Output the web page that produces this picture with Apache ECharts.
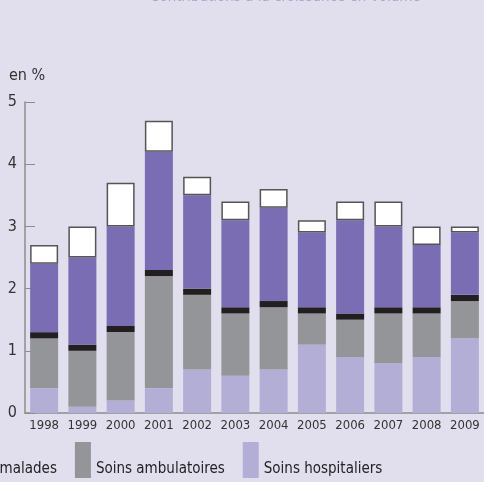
<!DOCTYPE html>
<html>
<head>
<meta charset="utf-8">
<script src="https://cdn.jsdelivr.net/npm/echarts@6/dist/echarts.min.js"></script>
<style>
  html, body { margin: 0; padding: 0; background: #e1dfee; }
  #chart { width: 484px; height: 482px; }
</style>
</head>
<body>
<div id="chart"></div>
<script>
const years = ['1998', '1999', '2000', '2001', '2002', '2003', '2004', '2005', '2006', '2007', '2008', '2009']
const soinsHospitaliers = [0.4, 0.1, 0.2, 0.4, 0.7, 0.6, 0.7, 1.1, 0.9, 0.8, 0.9, 1.2]
const soinsAmbulatoires = [0.8, 0.9, 1.1, 1.8, 1.2, 1.0, 1.0, 0.5, 0.6, 0.8, 0.7, 0.6]
const transports = [0.1, 0.1, 0.1, 0.1, 0.1, 0.1, 0.1, 0.1, 0.1, 0.1, 0.1, 0.1]
const medicaments = [1.1, 1.4, 1.6, 1.9, 1.5, 1.4, 1.5, 1.2, 1.5, 1.3, 1.0, 1.0]
const autres = [0.3, 0.5, 0.7, 0.5, 0.3, 0.3, 0.3, 0.2, 0.3, 0.4, 0.3, 0.1]
const yTicks = [0, 1, 2, 3, 4, 5]

const font = "'Liberation Sans Narrow', 'DejaVu Sans Condensed', sans-serif"

const chart = echarts.init(document.getElementById('chart'))

const bar = (name, data, color, extra) => ({
  name: name,
  type: 'bar',
  stack: 'total',
  data: data,
  barWidth: 28,
  itemStyle: Object.assign({ color: color }, extra || {})
})

const option = {
  backgroundColor: '#e1dfee',
  animation: false,
  graphic: [
    {
      type: 'text',
      left: 9,
      top: 68,
      style: { text: 'en %', fontSize: 16, fontFamily: font, fill: '#333' }
    },
    {
      type: 'text',
      x: 150,
      y: -10,
      style: { text: 'Contributions à la croissance en volume', fontSize: 15, fontFamily: font, fill: '#a9a3d3' }
    }
  ],
  legend: {
    data: ['Transports de malades', 'Soins ambulatoires', 'Soins hospitaliers'],
    left: -117,
    top: 442,
    padding: 0,
    itemWidth: 16,
    itemHeight: 36,
    itemGap: 18,
    icon: 'rect',
    formatter: name => '\n' + name,
    textStyle: { fontSize: 15, lineHeight: 18, fontFamily: font, color: '#222' }
  },
  grid: { left: 25, right: -2, top: 102, bottom: 69 },
  xAxis: {
    type: 'category',
    data: years,
    axisLine: { lineStyle: { color: '#8c8c8c', width: 1.5 } },
    axisTick: { inside: true, length: 6, lineStyle: { color: '#8c8c8c' } },
    axisLabel: { interval: 0, fontSize: 13, fontFamily: font, color: '#333', margin: 6 }
  },
  yAxis: {
    type: 'value',
    min: yTicks[0],
    max: yTicks[yTicks.length - 1],
    interval: 1,
    axisLine: { show: true, lineStyle: { color: '#8c8c8c', width: 1.5 } },
    axisTick: { show: true, inside: true, length: 10, lineStyle: { color: '#8c8c8c' } },
    splitLine: { show: false },
    axisLabel: { fontSize: 16, fontFamily: font, color: '#333', margin: 8 }
  },
  series: [
    bar('Soins hospitaliers', soinsHospitaliers, '#b3aed6'),
    bar('Soins ambulatoires', soinsAmbulatoires, '#939598'),
    bar('Transports de malades', transports, '#231f20'),
    bar('Médicaments', medicaments, '#7b6db3'),
    bar('Autres biens médicaux', autres, '#ffffff', { borderColor: '#555', borderWidth: 1.5 })
  ]
}

chart.setOption(option)
</script>
</body>
</html>
